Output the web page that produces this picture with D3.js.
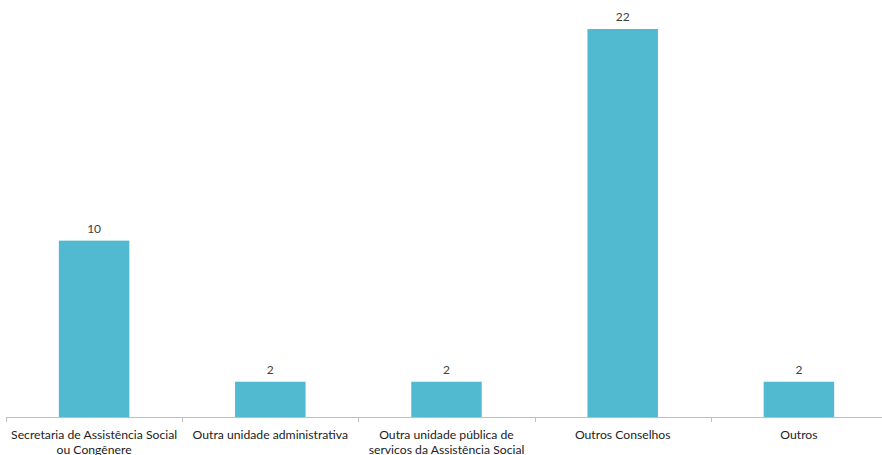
<!DOCTYPE html>
<html><head><meta charset="utf-8">
<script src="https://cdn.jsdelivr.net/npm/d3@7"></script>
<style>body{margin:0;background:#fff}svg{display:block}</style>
</head><body>
<svg id="c" width="882" height="455"></svg>
<script>
const categories = [
  ["Secretaria de Assistência Social", "ou Congênere"],
  ["Outra unidade administrativa"],
  ["Outra unidade pública de", "servicos da Assistência Social"],
  ["Outros Conselhos"],
  ["Outros"]
];
const values = [10, 2, 2, 22, 2];

const svg = d3.select("#c");
const font = "Lato, 'Open Sans', sans-serif";
const x = d3.scaleBand().domain(d3.range(categories.length)).range([6, 887]).paddingInner(0.6).paddingOuter(0.3);
const y = d3.scaleLinear().domain([0, 22]).range([417, 29]);

svg.selectAll("rect.bar").data(values).join("rect").attr("class","bar")
  .attr("x",(d,i)=>x(i)).attr("width",x.bandwidth())
  .attr("y",d=>y(d)).attr("height",d=>y(0)-y(d)).attr("fill","#52BAD0");

svg.selectAll("text.val").data(values).join("text").attr("class","val")
  .attr("x",(d,i)=>x(i)+x.bandwidth()/2).attr("y",d=>y(d)-8)
  .attr("text-anchor","middle").attr("font-family",font).attr("font-size",12).attr("fill","#404040")
  .text(d=>d);

const step = x.step();
const left = 6;
svg.append("line").attr("x1",left).attr("x2",882).attr("y1",417.5).attr("y2",417.5).attr("stroke","#bfbfbf");
d3.range(categories.length).forEach(i=>{
  const tx = Math.round(left + i*step)+0.5;
  svg.append("line").attr("x1",tx).attr("x2",tx).attr("y1",417).attr("y2",422).attr("stroke","#bfbfbf");
});
categories.forEach((lines,i)=>{
  const t = svg.append("text").attr("text-anchor","middle").attr("font-family",font).attr("font-size",12.2).attr("fill","#222");
  lines.forEach((l,j)=>t.append("tspan").attr("x",x(i)+x.bandwidth()/2).attr("y",439+j*14.5).text(l));
});
</script>
</body></html>
